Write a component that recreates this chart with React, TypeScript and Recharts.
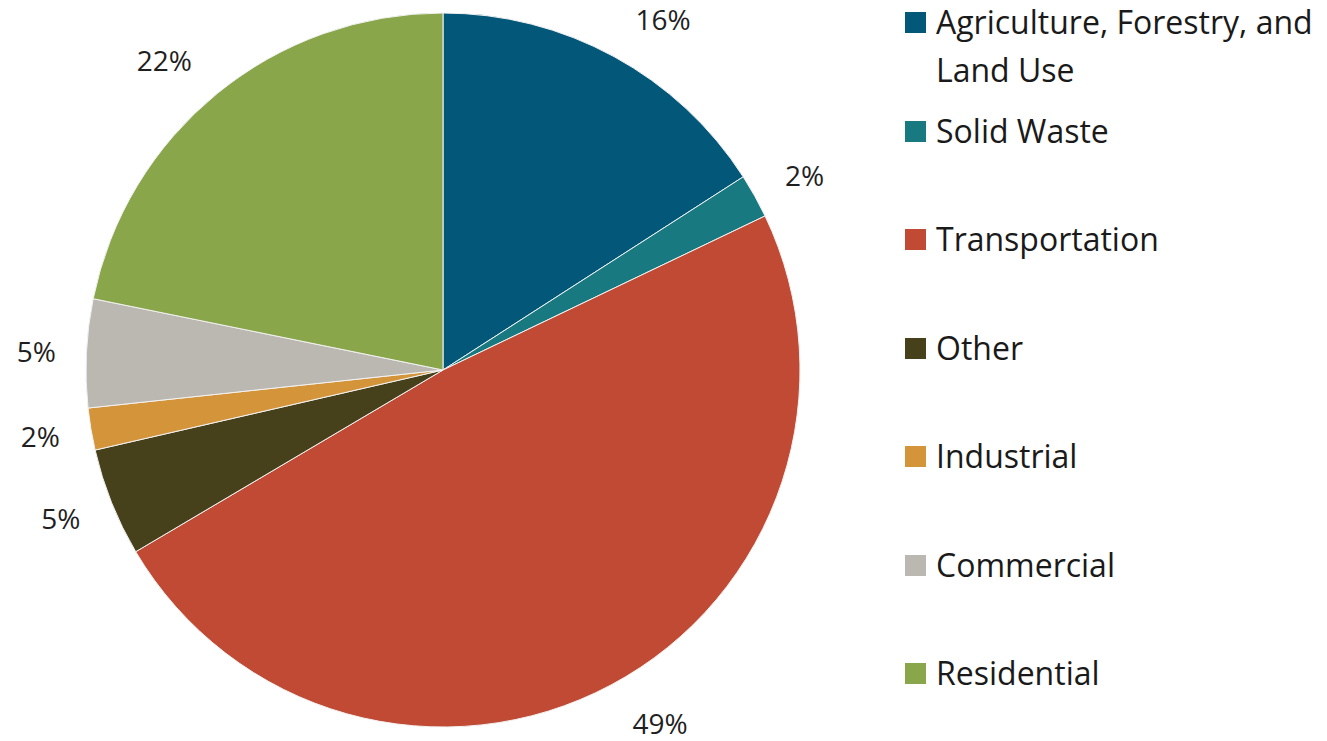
import { PieChart, Pie, Cell, Legend } from 'recharts';

const sectors = ['Agriculture, Forestry, and Land Use', 'Solid Waste', 'Transportation', 'Other', 'Industrial', 'Commercial', 'Residential'];
const shares = [15.9, 2.0, 48.6, 4.9, 1.9, 4.9, 21.8];
const colors = ['#03587A', '#187A80', '#C14A34', '#46401B', '#D4943A', '#BBB8B1', '#8AA64B'];

const data = sectors.map((name, i) => ({ name, value: shares[i] }));

const RAD = Math.PI / 180;
const FONT = '"Open Sans", "Noto Sans", sans-serif';
const LABEL_SIZE = 28;

// outside-end label: box pushed away from the pie edge, like Excel does it
function renderLabel(props: any) {
  const { cx, cy, midAngle, outerRadius, value } = props;
  const text = `${Math.round(value)}%`;
  const w = ((text.length - 1) * 0.572 + 0.84) * LABEL_SIZE;
  const h = 26;
  const ux = Math.cos(-midAngle * RAD);
  const uy = Math.sin(-midAngle * RAD);
  const r = outerRadius + 30;
  const x = cx + r * ux + Math.sign(ux) * (w / 2 + 8 * Math.abs(uy));
  const y = cy + r * uy + uy * (h / 2);
  return (
    <text x={x} y={y} textAnchor="middle" dominantBaseline="central" fill="#1f1f1f" fontSize={LABEL_SIZE} fontFamily={FONT}>
      {text}
    </text>
  );
}

function renderLegend() {
  return (
    <div style={{ fontFamily: FONT, fontSize: 32, color: '#1a1a1a' }}>
      {sectors.map((name, i) => (
        <div key={name} style={{ display: 'flex', alignItems: 'flex-start', height: 108.5 }}>
          <div style={{ width: 21, height: 21, background: colors[i], marginTop: 14, marginRight: 10, flexShrink: 0 }} />
          <div style={{ width: 392, lineHeight: '48px' }}>{name}</div>
        </div>
      ))}
    </div>
  );
}

export default function App() {
  return (
    <div style={{ position: 'absolute', left: 0, top: 0, width: 1327, height: 741, background: '#fff' }}>
      <PieChart width={1327} height={741} margin={{ top: 0, right: 0, bottom: 0, left: 0 }}>
        <Pie
          data={data}
          dataKey="value"
          cx={443}
          cy={370}
          outerRadius={357}
          startAngle={90}
          endAngle={-270}
          stroke="#f2f2f2"
          strokeWidth={1}
          label={renderLabel}
          labelLine={false}
          isAnimationActive={false}
        >
          {data.map((d, i) => (
            <Cell key={d.name} fill={colors[i]} />
          ))}
        </Pie>
        <Legend
          content={renderLegend}
          layout="vertical"
          align="right"
          verticalAlign="top"
          wrapperStyle={{ left: 905, top: -2, width: 422 }}
        />
      </PieChart>
    </div>
  );
}
